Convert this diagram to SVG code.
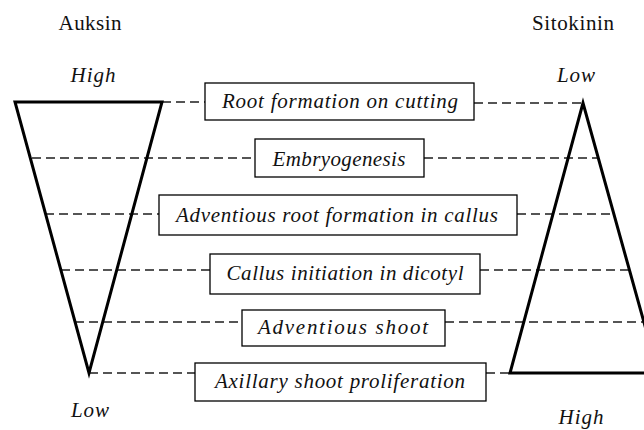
<svg xmlns="http://www.w3.org/2000/svg" width="644" height="430" viewBox="0 0 644 430">
<style>
.tri{fill:none;stroke:#000;stroke-width:3;stroke-linejoin:miter}
.dash{stroke:#555;stroke-width:2;stroke-dasharray:9,5;fill:none}
.box{fill:#fff;stroke:#000;stroke-width:1.3}
.lbl{font-family:"Liberation Serif",serif;font-style:italic;font-size:21px;fill:#111;text-anchor:middle}
.hdr{font-family:"Liberation Serif",serif;font-size:21px;fill:#111;text-anchor:middle}
.lev{font-family:"Liberation Serif",serif;font-style:italic;font-size:21px;fill:#111;text-anchor:middle}
</style>
<rect width="644" height="430" fill="#fff"/>
<g id="connectors">
<line class="dash" x1="162" y1="102" x2="205" y2="102"/>
<line class="dash" x1="474" y1="103" x2="583" y2="103"/>
<line class="dash" x1="32" y1="158" x2="255" y2="158"/>
<line class="dash" x1="424" y1="158" x2="598" y2="158"/>
<line class="dash" x1="45" y1="214" x2="159" y2="214"/>
<line class="dash" x1="517" y1="214" x2="613" y2="214"/>
<line class="dash" x1="61" y1="270" x2="210" y2="270"/>
<line class="dash" x1="480" y1="270" x2="629" y2="270"/>
<line class="dash" x1="75" y1="322" x2="242" y2="322"/>
<line class="dash" x1="445" y1="322" x2="644" y2="322"/>
<line class="dash" x1="89" y1="373" x2="195" y2="373"/>
<line class="dash" x1="486" y1="373" x2="510" y2="373"/>
</g>
<g id="auksin">
<polygon class="tri" points="15,102 162,102 89,373"/>
<text class="hdr" x="90" y="30" textLength="63">Auksin</text>
<text class="lev" x="93" y="82" textLength="45">High</text>
<text class="lev" x="90" y="417" textLength="38">Low</text>
</g>
<g id="sitokinin">
<polyline class="tri" points="660,380 583,103 510,373 650,373"/>
<text class="hdr" x="573" y="30" textLength="82">Sitokinin</text>
<text class="lev" x="576" y="82" textLength="38">Low</text>
<text class="lev" x="581" y="424" textLength="45">High</text>
</g>
<g id="n1"><rect class="box" x="205" y="83" width="269" height="37"/><text class="lbl" x="340" y="108" textLength="236">Root formation on cutting</text></g>
<g id="n2"><rect class="box" x="255" y="139" width="169" height="38"/><text class="lbl" x="339" y="166" textLength="133">Embryogenesis</text></g>
<g id="n3"><rect class="box" x="159" y="195" width="358" height="40"/><text class="lbl" x="337" y="222" textLength="322">Adventious root formation in callus</text></g>
<g id="n4"><rect class="box" x="210" y="254" width="270" height="40"/><text class="lbl" x="345" y="280" textLength="237">Callus initiation in dicotyl</text></g>
<g id="n5"><rect class="box" x="242" y="310" width="203" height="36"/><text class="lbl" x="343" y="334" textLength="170">Adventious shoot</text></g>
<g id="n6"><rect class="box" x="195" y="363" width="291" height="38"/><text class="lbl" x="340" y="388" textLength="250">Axillary shoot proliferation</text></g>
</svg>
